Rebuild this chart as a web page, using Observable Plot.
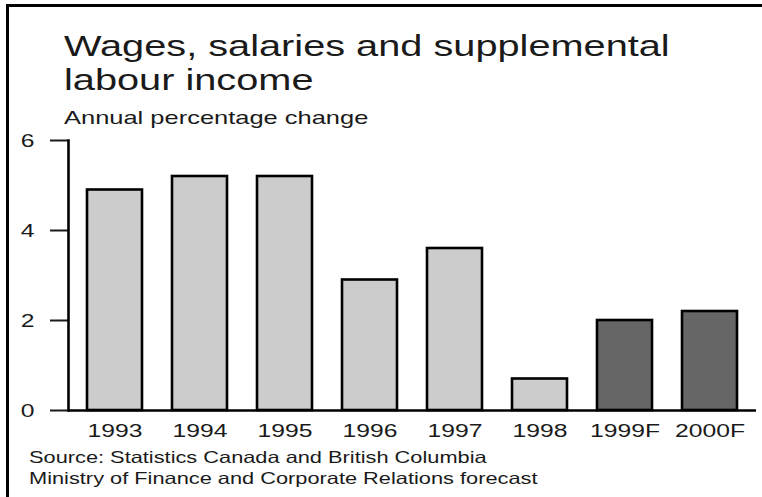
<!DOCTYPE html>
<html>
<head>
<meta charset="utf-8">
<script src="https://cdn.jsdelivr.net/npm/d3@7"></script>
<script src="https://cdn.jsdelivr.net/npm/@observablehq/plot@0.6"></script>
<style>
  html, body { margin: 0; padding: 0; background: #fff; }
  #wrap { position: relative; width: 762px; height: 497px; overflow: hidden; background: #fff;
          font-family: "Liberation Sans", Arial, sans-serif; color: #1a1a1a; }
  #frame { position: absolute; left: 6px; top: 4px; width: 800px; height: 600px;
           border-top: 3px solid #000; border-left: 3px solid #000; box-sizing: border-box; }
  .txt { position: absolute; white-space: nowrap; transform-origin: 0 0; }
  #title { left: 64px; top: 29px; font-size: 30px; line-height: 34px; transform: scaleX(1.324); }
  #subtitle { left: 64px; top: 108px; font-size: 19px; line-height: 19px; transform: scaleX(1.34); }
  #source { left: 29px; top: 447px; font-size: 16.5px; line-height: 21px; transform: scaleX(1.32); }
  #chart { position: absolute; left: 0; top: 0; }
</style>
</head>
<body>
<div id="wrap">
  <div id="chart"></div>
  <div id="frame"></div>
  <div id="title" class="txt">Wages, salaries and supplemental<br>labour income</div>
  <div id="subtitle" class="txt">Annual percentage change</div>
  <div id="source" class="txt">Source: Statistics Canada and British Columbia<br>Ministry of Finance and Corporate Relations forecast</div>
</div>
<script>
const years = ["1993", "1994", "1995", "1996", "1997", "1998", "1999F", "2000F"];
const changes = [4.9, 5.2, 5.2, 2.9, 3.6, 0.7, 2.0, 2.2];
const isForecast = [false, false, false, false, false, false, true, true];
const yTicks = [0, 2, 4, 6];
const seriesNames = ["Actual", "Forecast"];
const seriesColors = ["#cccccc", "#666666"];

const data = years.map((year, i) => ({
  year,
  change: changes[i],
  type: isForecast[i] ? seriesNames[1] : seriesNames[0]
}));

const chart = Plot.plot({
  width: 762,
  height: 497,
  marginLeft: 68,
  marginRight: 6,
  marginTop: 140,
  marginBottom: 87,
  style: { fontFamily: "Liberation Sans, Arial, sans-serif", fontSize: "19px", color: "#1a1a1a", background: "transparent" },
  x: { domain: years, paddingInner: 0.35, paddingOuter: 0.19, label: null },
  y: { domain: [0, 6], ticks: yTicks, label: null },
  color: { domain: seriesNames, range: seriesColors },
  marks: [
    Plot.barY(data, { x: "year", y: "change", fill: "type", stroke: "#000", strokeWidth: 2.6 }),
    Plot.axisX({ tickSize: 0, tickPadding: 13, fontSize: 19, label: null }),
    Plot.axisY({ ticks: yTicks, tickFormat: d => String(d), tickSize: 18, tickPadding: 16, strokeWidth: 2, fontSize: 19, label: null }),
    Plot.ruleY([0], { stroke: "#000", strokeWidth: 2.6 }),
    Plot.frame({ anchor: "left", stroke: "#000", strokeWidth: 2.6 })
  ]
});

document.getElementById("chart").appendChild(chart);

// stretch tick text horizontally (around its anchor point) to match the reference's wide lettering
const SX = 1.3;
chart.querySelectorAll("text").forEach(t => {
  const bb = t.getBBox();
  const anchorEl = t.closest("[text-anchor]");
  const anchor = (t.getAttribute("text-anchor") || (anchorEl && anchorEl.getAttribute("text-anchor")) || "start");
  const cx = anchor === "end" ? bb.x + bb.width : anchor === "middle" ? bb.x + bb.width / 2 : bb.x;
  const tr = t.getAttribute("transform") || "";
  t.setAttribute("transform", `${tr} translate(${cx},0) scale(${SX},1) translate(${-cx},0)`.trim());
});
</script>
</body>
</html>
